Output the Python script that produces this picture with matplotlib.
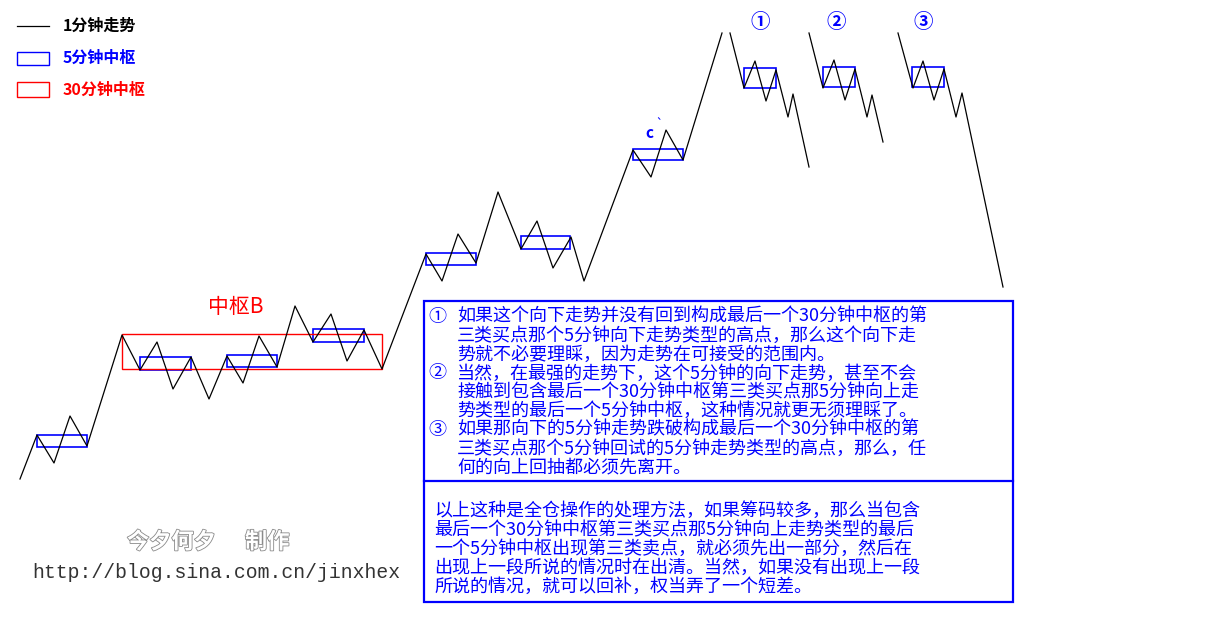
import matplotlib.pyplot as plt
import matplotlib.patheffects as pe
from matplotlib.patches import Rectangle

plt.rcParams['font.family'] = ['Noto Sans CJK SC', 'DejaVu Sans']

# 1-minute trend (pixel-like coordinates of the schematic, y grows downward)
trend_x = [20, 37, 54, 70, 87, 122, 140, 157, 173, 191, 209, 227, 243, 259, 277,
           295, 313, 331, 347, 364, 382, 426, 442, 458, 476, 498, 521, 537, 553,
           571, 584, 633, 651, 666, 683, 722]
trend_y = [479, 435, 463, 416, 446, 335, 370, 342, 389, 357, 399, 356, 383, 336, 367,
           306, 342, 314, 361, 330, 369, 254, 281, 234, 263, 192, 249, 221, 268,
           237, 281, 150, 177, 130, 160, 33]

# the three possible down moves
case1_x = [730, 744, 755, 766, 776, 788, 793, 809]
case1_y = [33, 88, 61, 101, 70, 117, 94, 167]
case2_x = [809, 823, 834, 845, 855, 867, 872, 883]
case2_y = [33, 88, 60, 100, 69, 117, 95, 142]
case3_x = [898, 913, 923, 934, 944, 956, 962, 1003]
case3_y = [33, 88, 61, 100, 69, 117, 93, 287]

# 5-minute centers
zs5_left = [37, 140, 227, 313, 426, 521, 633, 744, 823, 912]
zs5_right = [87, 191, 277, 364, 476, 570, 683, 776, 855, 944]
zs5_top = [435, 357, 355, 329, 253, 236, 149, 68, 67, 67]
zs5_bottom = [447, 370, 367, 342, 265, 249, 160, 88, 87, 87]

# 30-minute center B
zs30_left, zs30_right = 122, 382
zs30_top, zs30_bottom = 334, 369

legend_labels = ['1分钟走势', '5分钟中枢', '30分钟中枢']

notes_top = [
    '如果这个向下走势并没有回到构成最后一个30分钟中枢的第',
    '三类买点那个5分钟向下走势类型的高点，那么这个向下走',
    '势就不必要理睬，因为走势在可接受的范围内。',
    '当然，在最强的走势下，这个5分钟的向下走势，甚至不会',
    '接触到包含最后一个30分钟中枢第三类买点那5分钟向上走',
    '势类型的最后一个5分钟中枢，这种情况就更无须理睬了。',
    '如果那向下的5分钟走势跌破构成最后一个30分钟中枢的第',
    '三类买点那个5分钟回试的5分钟走势类型的高点，那么，任',
    '何的向上回抽都必须先离开。',
]
note_marks = {0: '①', 3: '②', 6: '③'}

notes_bottom = [
    '以上这种是全仓操作的处理方法，如果筹码较多，那么当包含',
    '最后一个30分钟中枢第三类买点那5分钟向上走势类型的最后',
    '一个5分钟中枢出现第三类卖点，就必须先出一部分，然后在',
    '出现上一段所说的情况时在出清。当然，如果没有出现上一段',
    '所说的情况，就可以回补，权当弄了一个短差。',
]

BLUE = '#0000ff'
RED = '#ff0000'

fig = plt.figure(figsize=(12.06, 6.31), dpi=100)
ax = fig.add_axes([0, 0, 1, 1])
ax.set_xlim(0, 1206)
ax.set_ylim(631, 0)
ax.axis('off')

for xs, ys in [(trend_x, trend_y), (case1_x, case1_y), (case2_x, case2_y), (case3_x, case3_y)]:
    ax.plot(xs, ys, color='black', lw=0.9)

for x0, x1, y0, y1 in zip(zs5_left, zs5_right, zs5_top, zs5_bottom):
    ax.add_patch(Rectangle((x0, y0), x1 - x0, y1 - y0, fill=False, ec=BLUE, lw=1.2))
ax.add_patch(Rectangle((zs30_left, zs30_top), zs30_right - zs30_left, zs30_bottom - zs30_top,
                       fill=False, ec=RED, lw=1.0))

ax.text(236, 307, '中枢B', color=RED, fontsize=15, ha='center', va='center')
ax.text(649, 133, 'c', color=BLUE, fontsize=11, fontweight='bold', ha='center', va='center')
ax.text(659, 125, '`', color=BLUE, fontsize=9, ha='center', va='center')
for lab, xx in zip(['①', '②', '③'], [760, 836, 923]):
    ax.text(xx, 23, lab, color=BLUE, fontsize=14, fontweight='bold', ha='center', va='center')

# legend
ax.plot([17, 49], [26, 26], color='black', lw=0.9)
ax.add_patch(Rectangle((17, 52), 32, 13, fill=False, ec=BLUE, lw=1.0))
ax.add_patch(Rectangle((17, 82), 32, 15, fill=False, ec=RED, lw=1.0))
for lab, yy, col in zip(legend_labels, [26, 58, 90], ['black', BLUE, RED]):
    ax.text(63, yy, lab, color=col, fontsize=11.5, fontweight='bold', ha='left', va='center')

# note box
ax.add_patch(Rectangle((424, 301), 1013 - 424, 602 - 301, fill=False, ec=BLUE, lw=1.6))
ax.plot([424, 1013], [481, 481], color=BLUE, lw=1.6)
for i, line in enumerate(notes_top):
    yy = 317 + i * 18.8
    if i in note_marks:
        ax.text(428, yy, note_marks[i], color=BLUE, fontsize=13, fontweight='medium',
                ha='left', va='center')
    ax.text(457, yy, line, color=BLUE, fontsize=13, fontweight='medium', ha='left', va='center')
for i, line in enumerate(notes_bottom):
    ax.text(434, 511 + i * 19, line, color=BLUE, fontsize=13, fontweight='medium',
            ha='left', va='center')

# watermark
outline = [pe.Stroke(linewidth=1.2, foreground='#8a8a8a'), pe.Normal()]
ax.text(127, 542, '今夕何夕', color='white', fontsize=16, fontweight='bold',
        ha='left', va='center', path_effects=outline)
ax.text(245, 542, '制作', color='white', fontsize=16, fontweight='bold',
        ha='left', va='center', path_effects=outline)
ax.text(32, 572, 'http://blog.sina.com.cn/jinxhex', color='#333333', fontsize=14.2,
        family='Liberation Mono', ha='left', va='center')

fig.savefig('out.png', dpi=100)
